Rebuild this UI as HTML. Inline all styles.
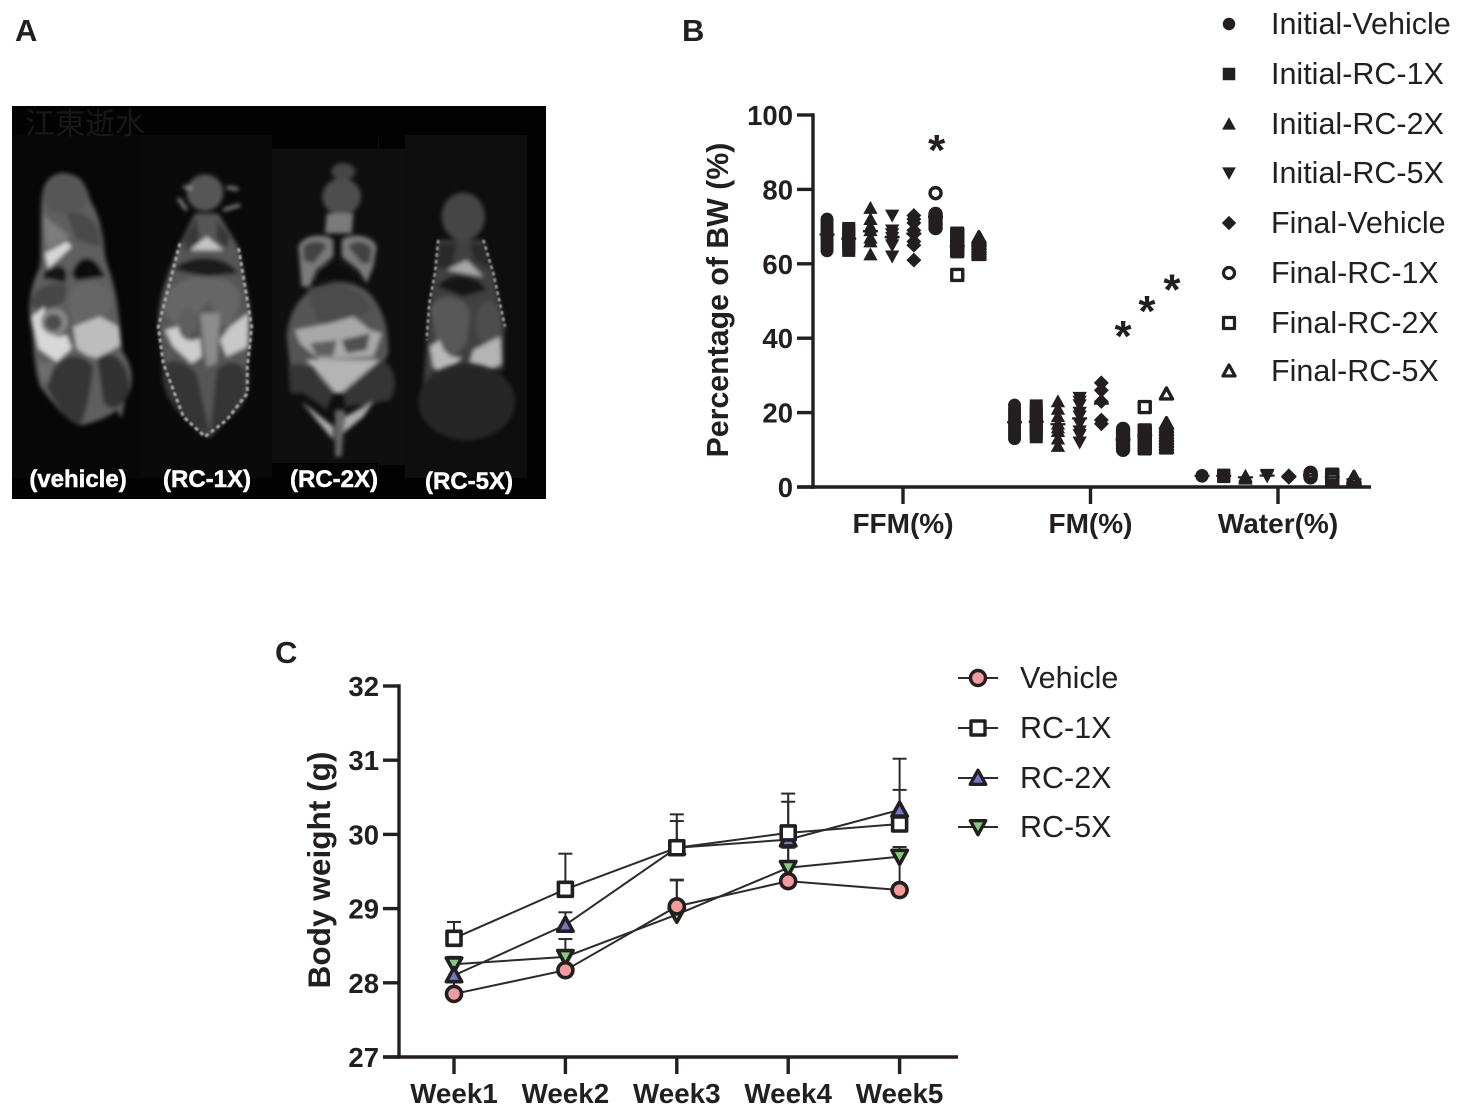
<!DOCTYPE html>
<html lang="en">
<head>
<meta charset="utf-8">
<title>Body composition and body weight figure</title>
<style>
html,body{margin:0;padding:0;background:#fff;}
svg{display:block;}
text{font-family:"Liberation Sans","Noto Sans CJK SC",sans-serif;fill:#231f20;}
.b{font-weight:bold;}
.w{stroke:#fff;stroke-width:0.5px;}
</style>
</head>
<body>
<svg id="fig" xmlns="http://www.w3.org/2000/svg" width="1458" height="1111" viewBox="0 0 1458 1111">
<defs>
  <filter id="soft" x="-10%" y="-10%" width="120%" height="120%"><feGaussianBlur stdDeviation="6"/></filter>
  <filter id="speck" x="-10%" y="-10%" width="120%" height="120%"><feGaussianBlur stdDeviation="2.5"/></filter>
</defs>
<rect width="1458" height="1111" fill="#fff"/>
<text class="b" x="15" y="41" font-size="31">A</text>
<text class="b" x="682" y="41" font-size="31">B</text>
<text class="b" x="275" y="663" font-size="31">C</text>

<g>
  <rect x="12" y="106" width="534" height="393" fill="#030303"/>
  <rect x="12" y="135" width="128" height="343" fill="#070707"/>
  <rect x="140" y="135" width="132" height="343" fill="#0a0a0a"/>
  <rect x="378" y="135" width="149" height="343" fill="#0e0e0e"/>
  <rect x="272" y="149" width="133" height="314" fill="#0f0f0f"/>
  <rect x="379" y="135" width="26" height="14" fill="#020202"/>
  <rect x="379" y="465" width="26" height="14" fill="#020202"/>
  <text x="25" y="134" font-size="30" style="fill:#181818">江東逝水</text>

  <g transform="translate(10,100) scale(0.3333)">
    <g filter="url(#soft)">
      <path d="M150,220 C190,215 230,240 240,300 C265,340 280,390 285,470 C300,520 320,570 325,640 C335,700 330,730 340,760 C370,800 375,860 345,900 L335,955 L320,930 C300,950 240,975 205,975 C160,960 110,880 90,860 C70,800 70,720 65,690 C50,620 60,560 90,500 C95,440 90,360 95,290 C100,250 120,225 150,220Z" fill="#5e5e5e"/>
      <path d="M95,290 C100,240 150,215 190,225 C235,240 240,300 220,330 C180,350 110,350 95,290Z" fill="#565656"/>
      <path d="M100,345 L180,410 L110,450Z" fill="#7c7c7c"/>
      <path d="M170,345 C230,320 280,380 270,440 L200,420Z" fill="#4a4a4a"/>
      <path d="M105,460 L170,425 L185,440 L115,505Z" fill="#d6d6d6"/>
      <path d="M100,520 C130,490 170,490 170,525 L165,548 L100,535Z" fill="#121212"/>
      <path d="M185,525 C200,465 250,450 285,530 L200,542Z" fill="#0c0c0c"/>
      <path d="M175,600 C195,530 275,530 305,590 C315,640 265,660 240,680 L190,665Z" fill="#666"/>
      <path d="M60,610 C70,560 130,540 170,555 L165,605 L90,640Z" fill="#474747"/>
      <path d="M65,650 L105,620 C95,680 120,725 170,705 L185,745 L140,785 L85,745Z" fill="#d8d8d8"/>
      <circle cx="132" cy="665" r="40" fill="#8a8a8a"/>
      <circle cx="130" cy="668" r="26" fill="#4d4d4d"/>
      <path d="M190,680 L270,650 L325,680 L332,735 L262,775 L230,765 L200,745Z" fill="#bdbdbd"/>
      <path d="M110,860 C130,770 200,740 250,800 C240,900 220,970 205,975 C160,960 130,900 110,860Z" fill="#343434"/>
      <path d="M262,775 C310,730 372,810 356,880 C340,925 300,940 280,905Z" fill="#323232"/>
      <path d="M85,790 L130,790 L115,850 L95,840Z" fill="#6e6e6e"/>
    </g>
  </g>

  <g transform="translate(10,100) scale(0.3333)">
    <g filter="url(#soft)">
      <path d="M555,340 L625,340 L685,440 L712,580 C728,660 725,720 712,800 C722,870 712,910 650,960 L600,1012 L570,1000 L520,950 C470,900 450,850 460,790 L445,680 C445,600 462,550 510,430Z" fill="#565656"/>
      <circle cx="585" cy="278" r="55" fill="#565656"/>
      <path d="M520,260 L545,265 M650,262 L685,268 M505,295 L530,330 M640,330 L690,315" stroke="#a8a8a8" stroke-width="8" fill="none"/>
      <path d="M520,420 L560,350 L570,420 L530,460Z" fill="#383838"/>
      <path d="M620,360 L660,410 L650,445 L620,420Z" fill="#383838"/>
      <path d="M540,450 L590,410 L640,450Z" fill="#c6c6c6"/>
      <path d="M490,510 C530,460 650,460 685,520 L590,530Z" fill="#1a1a1a"/>
      <path d="M470,590 C500,510 660,510 690,580 C690,640 660,690 625,680 L600,600 L560,640 L530,710 L500,680 L465,640Z" fill="#666"/>
      <ellipse cx="533" cy="665" rx="28" ry="40" fill="#5f5f5f"/>
      <path d="M465,690 L505,680 C510,720 540,730 570,715 L575,770 L545,790 L490,740Z" fill="#cdcdcd"/>
      <path d="M660,680 L715,640 L712,740 L650,770 L630,720Z" fill="#c8c8c8"/>
      <path d="M570,640 L630,640 L620,790 L590,800Z" fill="#8c8c8c"/>
      <path d="M458,800 C490,760 540,800 560,820 L600,1000 L570,995 C500,950 450,870 458,800Z" fill="#343434"/>
      <path d="M620,810 C660,770 700,790 708,820 C718,880 690,930 600,1005Z" fill="#343434"/>
    </g>
    <path filter="url(#speck)" d="M510,430 L445,680 L460,790 L520,950 L585,1010 L650,960 L712,880 L712,800 L725,680 L685,440" fill="none" stroke="#a8a8a8" stroke-width="9" stroke-dasharray="12 9"/>
  </g>

  <g transform="translate(270,100) scale(0.3333)">
    <g filter="url(#soft)">
      <ellipse cx="220" cy="215" rx="36" ry="26" fill="#454545"/>
      <ellipse cx="215" cy="290" rx="58" ry="55" fill="#4e4e4e"/>
      <path d="M170,340 L250,340 L245,400 L165,400Z" fill="#7a7a7a"/>
      <path d="M85,440 C100,400 170,400 190,420 L190,470 L140,510 L120,560 L95,560Z" fill="#7a7a7a"/>
      <path d="M320,440 C305,400 235,400 215,420 L215,470 L265,510 L290,550 L310,500Z" fill="#7a7a7a"/>
      <path d="M100,440 C120,420 160,420 170,440 L130,490 L100,480Z" fill="#424242"/>
      <path d="M305,445 C285,420 250,420 235,440 L275,490 L300,490Z" fill="#424242"/>
      <path d="M140,540 C150,470 240,470 260,540Z" fill="#0a0a0a"/>
      <path d="M100,590 C160,530 280,530 320,610 C345,650 355,690 355,760 L335,800 L60,800 L50,710 C55,660 70,620 100,590Z" fill="#555"/>
      <path d="M110,570 C170,540 270,550 305,630 L210,680 L140,660Z" fill="#4c4c4c"/>
      <path d="M75,690 L180,670 L250,650 L300,690 L335,700 L310,770 L150,780 L90,730Z" fill="#a8a8a8"/>
      <path d="M120,730 L200,720 L190,770 L140,770Z" fill="#5e5e5e"/>
      <path d="M215,720 L300,700 L290,750 L230,760Z" fill="#505050"/>
      <path d="M110,780 L330,780 L215,880 L195,880Z" fill="#b4b4b4"/>
      <path d="M55,800 C90,780 120,790 190,880 L170,930 L100,880 L60,880Z" fill="#363636"/>
      <path d="M330,780 C370,790 390,850 360,900 L310,910 L225,920 L220,880Z" fill="#363636"/>
      <path d="M95,905 L190,980 L190,1020 L140,960Z" fill="#aaa"/>
      <path d="M310,905 L225,950 L220,1000 L280,950Z" fill="#aaa"/>
      <path d="M195,930 L225,930 L215,1070 L195,1070Z" fill="#666"/>
    </g>
  </g>

  <g transform="translate(270,100) scale(0.3333)">
    <g filter="url(#soft)">
      <ellipse cx="580" cy="350" rx="65" ry="72" fill="#454545"/>
      <path d="M505,420 L640,420 L670,520 L705,680 L700,810 L520,830 L460,860 L470,720 L480,610 L495,520Z" fill="#414141"/>
      <path d="M510,430 L560,430 L545,510 L500,500Z" fill="#2a2a2a"/>
      <path d="M600,430 L650,430 L660,510 L610,480Z" fill="#2a2a2a"/>
      <path d="M530,510 L590,480 L640,530Z" fill="#a8a8a8"/>
      <path d="M500,560 C540,510 620,520 650,570 L580,590Z" fill="#141414"/>
      <path d="M480,620 C520,570 590,590 600,640 L590,730 L550,770 L500,720Z" fill="#585858"/>
      <ellipse cx="655" cy="670" rx="38" ry="65" fill="#4e4e4e"/>
      <path d="M480,740 L510,720 C520,760 550,780 575,770 L530,830 L490,800Z" fill="#b8b8b8"/>
      <path d="M610,750 L690,710 L695,790 L640,820 L600,790Z" fill="#b4b4b4"/>
    </g>
    <g filter="url(#soft)">
      <ellipse cx="590" cy="905" rx="145" ry="115" fill="#262626"/>
    </g>
    <path filter="url(#speck)" d="M505,420 L495,520 L478,610 L470,720 M640,420 L670,520 L705,680" fill="none" stroke="#999" stroke-width="8" stroke-dasharray="11 9"/>
  </g>

  <g>
    <text class="b w" x="78" y="487" font-size="24" text-anchor="middle" style="fill:#fff">(vehicle)</text>
    <text class="b w" x="207" y="487" font-size="24" text-anchor="middle" style="fill:#fff">(RC-1X)</text>
    <text class="b w" x="334" y="487" font-size="24" text-anchor="middle" style="fill:#fff">(RC-2X)</text>
    <text class="b w" x="469" y="489" font-size="24" text-anchor="middle" style="fill:#fff">(RC-5X)</text>
  </g>
</g>

<g id="chart-b"></g>
<g id="chart-c"></g>
</svg>

<script>
// ---------- Panel B data ----------
const compCategories = ['FFM(%)', 'FM(%)', 'Water(%)'];
const compSeries = ['Initial-Vehicle', 'Initial-RC-1X', 'Initial-RC-2X', 'Initial-RC-5X', 'Final-Vehicle', 'Final-RC-1X', 'Final-RC-2X', 'Final-RC-5X'];
const compTicks = [0, 20, 40, 60, 80, 100];
const ffmValues = [
  [63.5, 64.2, 65, 65.8, 66.5, 67.2, 68, 68.6, 69.3, 70, 70.7, 71.4, 72],
  [63.6, 64.5, 65.5, 66.4, 67.3, 68.2, 69, 69.5],
  [62.5, 66, 67, 69, 70, 72, 75],
  [62, 65, 66, 67, 68, 69, 73],
  [61, 65, 66, 68, 69, 71, 72, 73],
  [69.6, 70.4, 71.2, 72, 72.8, 73.4, 79],
  [57, 63.4, 64.2, 65, 65.8, 66.6, 67.4, 68.1],
  [62.5, 63.2, 63.9, 64.6, 65.3, 66, 66.5, 67]
];
const fmValues = [
  [13, 13.8, 14.6, 15.4, 16.2, 17, 17.8, 18.6, 19.4, 20.2, 21, 22],
  [13.5, 14.5, 15.5, 16.5, 17.5, 18.5, 19.5, 20.5, 21.8],
  [11, 13, 15, 16, 17, 19, 21, 23],
  [12, 14, 15, 17, 19, 20, 22, 23, 24],
  [17, 18, 23, 26, 28],
  [10, 10.8, 11.6, 12.4, 13.2, 14, 14.8, 15.6],
  [10.4, 11.2, 12, 12.8, 13.6, 14.4, 15.2, 21.5],
  [10.5, 11.3, 12.1, 12.9, 13.7, 14.5, 15.3, 16.1, 17, 25]
];
const waterValues = [
  [3, 3.1, 2.9],
  [3, 3.2, 2.8],
  [2.2, 2.6, 3],
  [3, 3.3, 2.9],
  [2.6, 2.8, 3],
  [2.6, 2.9, 3.2, 3.5, 3.8],
  [2, 2.3, 2.6, 3, 3.3],
  [1.6, 1.9, 2.2, 2.6]
];
const sigMarkGroup = [0, 1, 1, 1];
const sigMarkSeries = [5.05, 5, 6.1, 7.25];
const sigMarkLevel = [92, 42, 48.7, 54.5];

// ---------- Panel C data ----------
const weekLabels = ['Week1', 'Week2', 'Week3', 'Week4', 'Week5'];
const weightTicks = [27, 28, 29, 30, 31, 32];
const weightSeries = ['Vehicle', 'RC-1X', 'RC-2X', 'RC-5X'];
const weightVehicle = [27.85, 28.17, 29.03, 29.37, 29.25];
const weightRc1x = [28.6, 29.26, 29.82, 30.02, 30.14];
const weightRc2x = [28.1, 28.78, 29.82, 29.93, 30.33];
const weightRc5x = [28.25, 28.35, 28.92, 29.55, 29.7];
const errVehicle = [0.2, 0.2, 0.35, 0.45, 0.5];
const errRc1x = [0.22, 0.48, 0.36, 0.42, 0.46];
const errRc2x = [0.2, 0.17, 0.45, 0.62, 0.69];
const errRc5x = [0.1, 0.24, 0.47, 0.5, 0.13];

// ---------- Helpers ----------
const NS = 'http://www.w3.org/2000/svg';
const INK = '#231f20';
function mk(parent, tag, attrs, txt) {
  const el = document.createElementNS(NS, tag);
  for (const k in attrs) el.setAttribute(k, attrs[k]);
  if (txt !== undefined) el.textContent = txt;
  parent.appendChild(el);
  return el;
}
function shape(parent, kind, x, y, s, fill, stroke, sw) {
  const st = { fill: fill, stroke: stroke, 'stroke-width': sw, 'stroke-linejoin': 'round' };
  const r = s / 2;
  if (kind === 'circle') return mk(parent, 'circle', Object.assign({ cx: x, cy: y, r: r }, st));
  if (kind === 'square') return mk(parent, 'rect', Object.assign({ x: x - r, y: y - r, width: s, height: s }, st));
  if (kind === 'up') return mk(parent, 'polygon', Object.assign({ points: (x) + ',' + (y - r * 1.1) + ' ' + (x + r * 1.1) + ',' + (y + r * 0.9) + ' ' + (x - r * 1.1) + ',' + (y + r * 0.9) }, st));
  if (kind === 'down') return mk(parent, 'polygon', Object.assign({ points: (x) + ',' + (y + r * 1.1) + ' ' + (x + r * 1.1) + ',' + (y - r * 0.9) + ' ' + (x - r * 1.1) + ',' + (y - r * 0.9) }, st));
  return mk(parent, 'polygon', Object.assign({ points: x + ',' + (y - r * 1.15) + ' ' + (x + r * 1.15) + ',' + y + ' ' + x + ',' + (y + r * 1.15) + ' ' + (x - r * 1.15) + ',' + y }, st));
}

// ---------- Panel B ----------
const chartB = document.getElementById('chart-b');
const yB = v => 487 - v * 3.72;
const xB = (g, s) => 903 + g * 187.5 + (s - 3.5) * 21.7;
const compKinds = ['circle', 'square', 'up', 'down', 'diamond', 'circle', 'square', 'up'];

compTicks.forEach(function (t) {
  const tick = mk(chartB, 'line', { x1: 797, x2: 813, y1: yB(t), y2: yB(t), stroke: INK, 'stroke-width': 3.4 });
  
  
  const lab = mk(chartB, 'text', { x: 793, y: yB(t) + 10, 'font-size': 27.5, 'text-anchor': 'end', class: 'b' }, String(t));
  
  
});
const axisYB = mk(chartB, 'line', { x1: 813, x2: 813, y1: yB(100) - 1.7, y2: yB(0) + 1.7, stroke: INK, 'stroke-width': 3.4 });


const axisXB = mk(chartB, 'line', { x1: 797, x2: 1371, y1: yB(0), y2: yB(0), stroke: INK, 'stroke-width': 3.4 });


compCategories.forEach(function (c, g) {
  const x = xB(g, 3.5);
  const tick = mk(chartB, 'line', { x1: x, x2: x, y1: yB(0), y2: yB(0) + 17, stroke: INK, 'stroke-width': 3.4 });
  
  
  const lab = mk(chartB, 'text', { x: x, y: 533, 'font-size': 28, 'text-anchor': 'middle', class: 'b' }, c);
  
  
});
const titleB = mk(chartB, 'text', { transform: 'translate(728,300) rotate(-90)', 'font-size': 30.3, 'text-anchor': 'middle', class: 'b' }, 'Percentage of BW (%)');



[ffmValues, fmValues, waterValues].forEach(function (groupVals, g) {
  groupVals.forEach(function (vals, s) {
    const open = s >= 5;
    const x = xB(g, s);
    vals.forEach(function (v) {
      const m = open
        ? shape(chartB, compKinds[s], x, yB(v), 11, 'none', INK, 3.4)
        : shape(chartB, compKinds[s], x, yB(v), 13, INK, 'none', 0);
      
      
    });
    const mean = vals.reduce(function (a, b) { return a + b; }, 0) / vals.length;
    const ml = mk(chartB, 'line', { x1: x - 7.5, x2: x + 7.5, y1: yB(mean), y2: yB(mean), stroke: INK, 'stroke-width': 2.2 });
    
    
  });
});
sigMarkLevel.forEach(function (lv, i) {
  const star = mk(chartB, 'text', { x: xB(sigMarkGroup[i], sigMarkSeries[i]), y: yB(lv) + 20, 'font-size': 44, 'text-anchor': 'middle', class: 'b' }, '*');
  
  
});
const legendBY = [24, 74, 124, 173, 223, 273, 323, 371];
compSeries.forEach(function (name, s) {
  const open = s >= 5;
  const g = mk(chartB, 'g', {});
  
  
  if (open) shape(g, compKinds[s], 1229, legendBY[s], 11, '#fff', INK, 3.2);
  else shape(g, compKinds[s], 1229, legendBY[s], 12.5, INK, 'none', 0);
  mk(g, 'text', { x: 1271, y: legendBY[s] + 10, 'font-size': 30.5 }, name);
});

// ---------- Panel C ----------
const chartC = document.getElementById('chart-c');
const yC = v => 1057 - (v - 27) * 74.2;
const xC = i => 454 + i * 111.4;
const weightFills = ['#f59a9f', '#ffffff', '#6f79c6', '#84cc7e'];
const weightKinds = ['circle', 'square', 'up', 'down'];
const weightMeans = [weightVehicle, weightRc1x, weightRc2x, weightRc5x];
const weightErrs = [errVehicle, errRc1x, errRc2x, errRc5x];
const drawOrder = [3, 2, 0, 1];
const markerSize = [15, 14, 14, 14];

weightTicks.forEach(function (t) {
  const tick = mk(chartC, 'line', { x1: 383, x2: 399, y1: yC(t), y2: yC(t), stroke: INK, 'stroke-width': 3.4 });
  
  
  const lab = mk(chartC, 'text', { x: 379, y: yC(t) + 10, 'font-size': 27.5, 'text-anchor': 'end', class: 'b' }, String(t));
  
  
});
const axisYC = mk(chartC, 'line', { x1: 399, x2: 399, y1: yC(32) - 1.7, y2: yC(27) + 1.7, stroke: INK, 'stroke-width': 3.4 });


const axisXC = mk(chartC, 'line', { x1: 383, x2: 958, y1: yC(27), y2: yC(27), stroke: INK, 'stroke-width': 3.4 });


weekLabels.forEach(function (w, i) {
  const tick = mk(chartC, 'line', { x1: xC(i), x2: xC(i), y1: yC(27), y2: yC(27) + 17, stroke: INK, 'stroke-width': 3.4 });
  
  
  const lab = mk(chartC, 'text', { x: xC(i), y: 1103, 'font-size': 27.8, 'text-anchor': 'middle', class: 'b' }, w);
  
  
});
const titleC = mk(chartC, 'text', { transform: 'translate(330,870) rotate(-90)', 'font-size': 31.6, 'text-anchor': 'middle', class: 'b' }, 'Body weight (g)');



drawOrder.forEach(function (s) {
  weightMeans[s].forEach(function (v, i) {
    const top = yC(v + weightErrs[s][i]);
    const stem = mk(chartC, 'line', { x1: xC(i), x2: xC(i), y1: yC(v), y2: top, stroke: '#2b2b2b', 'stroke-width': 2 });
    
    
    const cap = mk(chartC, 'line', { x1: xC(i) - 7, x2: xC(i) + 7, y1: top, y2: top, stroke: '#2b2b2b', 'stroke-width': 2 });
    
    
  });
});
drawOrder.forEach(function (s) {
  const pts = weightMeans[s].map(function (v, i) { return xC(i) + ',' + yC(v); }).join(' ');
  const line = mk(chartC, 'polyline', { points: pts, fill: 'none', stroke: '#2b2b2b', 'stroke-width': 2 });
  
  
});
drawOrder.forEach(function (s) {
  weightMeans[s].forEach(function (v, i) {
    const m = shape(chartC, weightKinds[s], xC(i), yC(v), markerSize[s], weightFills[s], INK, 3.6);
    
    
  });
});
const legendCY = [678, 728, 778, 827];
weightSeries.forEach(function (name, s) {
  const g = mk(chartC, 'g', {});
  
  
  mk(g, 'line', { x1: 958, x2: 998, y1: legendCY[s], y2: legendCY[s], stroke: '#2b2b2b', 'stroke-width': 2 });
  shape(g, weightKinds[s], 978, legendCY[s], markerSize[s], weightFills[s], INK, 3.4);
  mk(g, 'text', { x: 1020, y: legendCY[s] + 10, 'font-size': 30.5 }, name);
});
</script>
</body>
</html>
